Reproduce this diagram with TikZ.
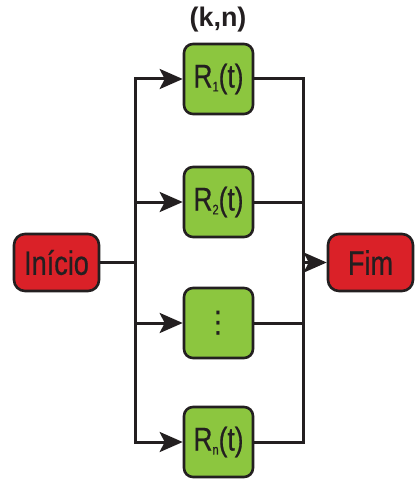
\documentclass[tikz,border=0pt]{standalone}
\usepackage{fontspec}
\setmainfont{Liberation Sans}[FakeStretch=0.8, FakeBold=0.6]
\newfontfamily\headfont{Liberation Sans}
\newfontfamily\symfont{DejaVu Sans}
\usetikzlibrary{arrows.meta}
\definecolor{termred}{HTML}{DA2128}
\definecolor{blockgreen}{HTML}{8CC63F}
\definecolor{edge}{HTML}{231F20}
\newcommand{\rel}[1]{R\raisebox{-0.12em}{\fontsize{14}{14}\selectfont #1}(t)}
\tikzset{
  terminal/.style={draw=edge, fill=termred, line width=2.6bp, rounded corners=11bp,
    minimum width=85bp, minimum height=57bp, inner sep=0pt, text=edge,
    font=\fontsize{34}{34}\selectfont},
  block/.style={draw=edge, fill=blockgreen, line width=2.6bp, rounded corners=9bp,
    minimum width=69bp, minimum height=70bp, inner sep=0pt, text=edge,
    font=\fontsize{33}{33}\selectfont},
  wire/.style={draw=edge, line width=3bp},
  flow/.style={wire, -{Stealth[length=23bp,width=20bp,inset=5bp]}},
}
\begin{document}
\begin{tikzpicture}[x=1bp, y=-1bp]
  \useasboundingbox (0,0) rectangle (414,481);

  % start and end terminals
  \node[terminal] (ini) at (56.5,262.5) {Início};
  \node[terminal] (fim) at (370.5,262.5) {Fim};

  % parallel blocks
  \node[block] (r1) at (218.5,79) {\rel{1}};
  \node[block] (r2) at (218.5,202) {\rel{2}};
  \node[block] (rd) at (218.5,323) {\symfont\fontsize{30}{30}\selectfont ⋮};
  \node[block] (rn) at (218.5,442) {\rel{n}};

  \node[font=\headfont\bfseries\fontsize{27}{27}\selectfont, text=edge] (kn) at (218,20) {(k,n)};

  % split and join rails
  \coordinate (sTop) at (135,79);
  \coordinate (sBot) at (135,442);
  \coordinate (sMid) at (135,262.5);
  \coordinate (jTop) at (303,79);
  \coordinate (jBot) at (303,442);
  \coordinate (jMid) at (303,262.5);

  \draw[wire] (ini.east) -- (sMid);
  \draw[wire, line cap=rect] (sTop) -- (sBot);
  \draw[wire, line cap=rect] (jTop) -- (jBot);

  \draw[flow] (sTop) -- (r1.west);
  \draw[flow] (135,202) -- (r2.west);
  \draw[flow] (135,323) -- (rd.west);
  \draw[flow] (sBot) -- (rn.west);

  \draw[wire] (r1.east) -- (jTop);
  \draw[wire] (r2.east) -- (303,202);
  \draw[wire] (rd.east) -- (303,323);
  \draw[wire] (rn.east) -- (jBot);

  \draw[flow] (jMid) -- (fim.west);
\end{tikzpicture}
\end{document}
